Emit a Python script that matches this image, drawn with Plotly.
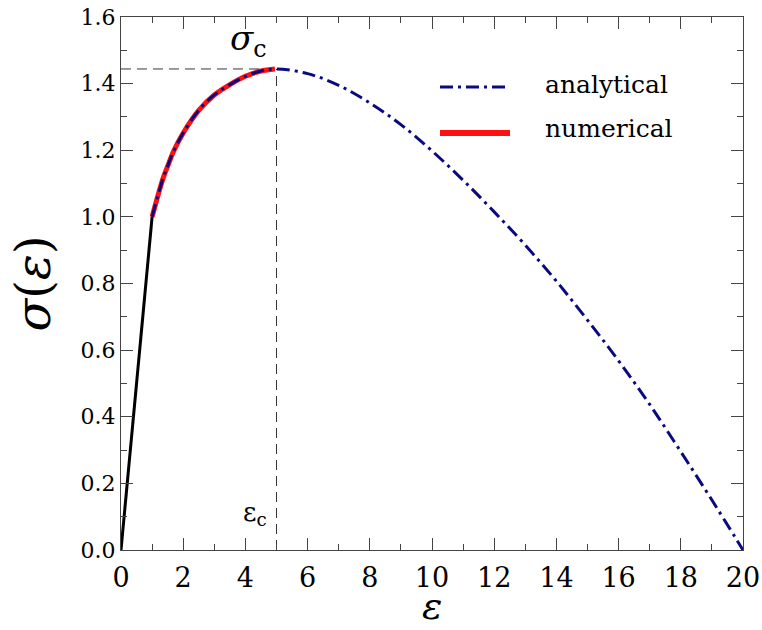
import plotly.graph_objects as go

# Elastic part
elastic_x = [0.0, 1.0]
elastic_y = [0.0, 1.0]

# Analytical curve
ana_x = [1.0, 1.2, 1.36, 1.5, 1.68, 2.0, 2.5, 3.0, 3.5, 4.0, 4.5, 5.0, 6.0, 7.0, 8.0, 9.0,
         10.0, 11.0, 12.0, 13.0, 14.0, 15.0, 16.0, 17.0, 18.0, 19.0, 20.0]
ana_y = [1.0, 1.068, 1.118, 1.152, 1.195, 1.252, 1.32, 1.366, 1.397, 1.422, 1.438, 1.444,
         1.43, 1.395, 1.342, 1.277, 1.198, 1.11, 1.015, 0.915, 0.807, 0.69, 0.568, 0.437,
         0.295, 0.15, 0.0]

# Numerical curve
num_x = [1.0, 1.2, 1.36, 1.5, 1.68, 2.0, 2.5, 3.0, 3.5, 4.0, 4.5, 4.95]
num_y = [1.0, 1.068, 1.118, 1.152, 1.195, 1.252, 1.32, 1.366, 1.397, 1.422, 1.438, 1.444]

eps_c = 5.0
sig_c = 1.444

x_ticks = [0, 2, 4, 6, 8, 10, 12, 14, 16, 18, 20]
y_ticks = [0.0, 0.2, 0.4, 0.6, 0.8, 1.0, 1.2, 1.4, 1.6]

NAVY = "#0a0a80"
RED = "#ff1010"
SERIF = "DejaVu Serif"

fig = go.Figure()

# critical dashed lines
fig.add_trace(go.Scatter(x=[0, eps_c], y=[sig_c, sig_c], mode="lines",
                         line=dict(color="#333", width=1, dash="10px,6px"),
                         showlegend=False, hoverinfo="skip"))
fig.add_trace(go.Scatter(x=[eps_c, eps_c], y=[0, sig_c], mode="lines",
                         line=dict(color="#333", width=1, dash="10px,6px"),
                         showlegend=False, hoverinfo="skip"))

fig.add_trace(go.Scatter(x=elastic_x, y=elastic_y, mode="lines",
                         line=dict(color="black", width=3), showlegend=False))
fig.add_trace(go.Scatter(x=num_x, y=num_y, mode="lines", name="numerical",
                         line=dict(color=RED, width=5, shape="spline", smoothing=1.0),
                         showlegend=False))
fig.add_trace(go.Scatter(x=ana_x, y=ana_y, mode="lines", name="analytical",
                         line=dict(color=NAVY, width=3, dash="13px,5px,3px,5px",
                                   shape="spline", smoothing=1.0),
                         showlegend=False))

# manual legend
fig.add_shape(type="line", xref="paper", yref="paper",
              x0=(440 - 121) / 622, x1=(510 - 121) / 622,
              y0=(550 - 87) / 533, y1=(550 - 87) / 533,
              line=dict(color=NAVY, width=3, dash="13px,5px,3px,5px"))
fig.add_shape(type="line", xref="paper", yref="paper",
              x0=(440 - 121) / 622, x1=(510 - 121) / 622,
              y0=(550 - 133) / 533, y1=(550 - 133) / 533,
              line=dict(color=RED, width=6))
fig.add_annotation(xref="paper", yref="paper", x=(543 - 121) / 622, y=(550 - 84) / 533,
                   text="analytical", showarrow=False, xanchor="left", yanchor="middle",
                   font=dict(family=SERIF, size=25, color="black"))
fig.add_annotation(xref="paper", yref="paper", x=(543 - 121) / 622, y=(550 - 128) / 533,
                   text="numerical", showarrow=False, xanchor="left", yanchor="middle",
                   font=dict(family=SERIF, size=25, color="black"))

# labels sigma_c and eps_c
fig.add_annotation(x=4.1, y=1.53, text="<i>σ</i><sub>c</sub>", showarrow=False,
                   font=dict(family=SERIF, size=34, color="black"))
fig.add_annotation(x=4.3, y=0.11, text="ε<sub>c</sub>", showarrow=False,
                   font=dict(family=SERIF, size=26, color="black"))

# x-axis title as annotation (placed below tick labels, kept inside the page)
fig.add_annotation(xref="paper", yref="paper", x=0.5, y=(550 - 629) / 533,
                   text="<i>ε</i>", showarrow=False, xanchor="center", yanchor="bottom",
                   borderpad=0, font=dict(family=SERIF, size=38, color="black"))

axis_common = dict(showline=True, linecolor="#444", linewidth=1, mirror="allticks",
                   ticks="inside", tickcolor="#444", ticklen=12, tickwidth=1,
                   showgrid=False, zeroline=False, ticklabeloverflow="allow",
                   automargin=False)

fig.update_xaxes(range=[0, 20], tickvals=x_ticks, ticktext=[str(v) for v in x_ticks],
                 tickfont=dict(family=SERIF, size=27, color="black"),
                 minor=dict(ticks="inside", ticklen=6, dtick=1, tick0=0, tickcolor="#444"),
                 ticklabelstandoff=4,
                 **axis_common)
fig.update_yaxes(range=[0, 1.6], tickvals=y_ticks, ticktext=[f"{v:.1f}" for v in y_ticks],
                 tickfont=dict(family=SERIF, size=22, color="black"),
                 minor=dict(ticks="inside", ticklen=6, dtick=0.1, tick0=0, tickcolor="#444"),
                 title=dict(text="<i>σ</i>(<i>ε</i>)", font=dict(family=SERIF, size=48, color="black"),
                            standoff=14),
                 **axis_common)

fig.update_layout(width=762, height=630, margin=dict(l=121, r=19, t=17, b=80),
                  plot_bgcolor="white", paper_bgcolor="white", showlegend=False)

fig.write_html("out.html")
